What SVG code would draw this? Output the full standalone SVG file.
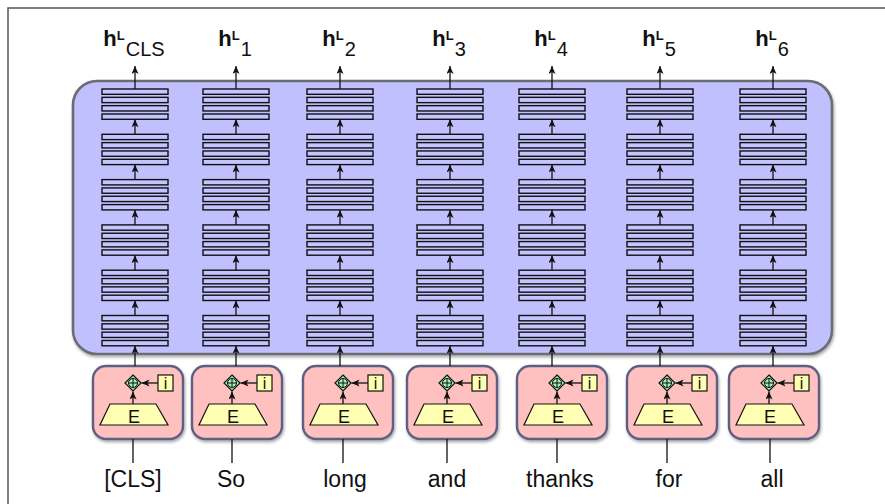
<svg xmlns="http://www.w3.org/2000/svg" xmlns:xlink="http://www.w3.org/1999/xlink" width="885" height="504" viewBox="0 0 885 504">
<style>
.frame{fill:none;stroke:#555;stroke-width:1.5}
.enc{fill:#c0c0ff;stroke:#6c6c74;stroke-width:2.6}
.bar{fill:#c4c4ff;stroke:#111;stroke-width:1.4}
.emb{fill:#ffc0c0;stroke:#5e5e84;stroke-width:2.4}
.trap{fill:#ffffb4;stroke:#111;stroke-width:1.2}
.dia{fill:#a4f0b4;stroke:#111;stroke-width:1.2}
.ibox{fill:#ffffb4;stroke:#111;stroke-width:1.2}
.ln{fill:none;stroke:#111;stroke-width:1.3}
.arr{fill:none;stroke:#111;stroke-width:1.3;marker-end:url(#ah)}
.lbl{font-family:"Liberation Sans",Arial,sans-serif;fill:#111}
.word{font-family:"Liberation Sans",Arial,sans-serif;font-size:23px;fill:#111;text-anchor:middle}
.e{font-family:"Liberation Sans",Arial,sans-serif;font-size:18px;fill:#111;text-anchor:middle}
.i{font-family:"Liberation Sans",Arial,sans-serif;font-size:16px;fill:#111;text-anchor:middle}
</style>
<defs>
<filter id="sh" x="-10%" y="-10%" width="125%" height="130%">
<feDropShadow dx="1" dy="2" stdDeviation="1.5" flood-color="#000" flood-opacity="0.35"/>
</filter>
<marker id="ah" markerUnits="userSpaceOnUse" markerWidth="9" markerHeight="8" refX="8" refY="3.5" orient="auto">
<path d="M0,0 L8,3.5 L0,7 L2,3.5 z" fill="#111"/>
</marker>
<g id="grp">
<rect class="bar" x="-33" y="0" width="66" height="5.3"/>
<rect class="bar" x="-33" y="8.33" width="66" height="5.3"/>
<rect class="bar" x="-33" y="16.67" width="66" height="5.3"/>
<rect class="bar" x="-33" y="25" width="66" height="5.3"/>
</g>
<g id="stack">
<use xlink:href="#grp" y="0"/>
<use xlink:href="#grp" y="45.3"/>
<use xlink:href="#grp" y="90.6"/>
<use xlink:href="#grp" y="135.9"/>
<use xlink:href="#grp" y="181.2"/>
<use xlink:href="#grp" y="226.5"/>
</g>
<g id="colarrows">
<path class="arr" d="M0,89 V66"/>
<path class="arr" d="M0,134.3 V119.3"/>
<path class="arr" d="M0,179.6 V164.6"/>
<path class="arr" d="M0,224.9 V209.9"/>
<path class="arr" d="M0,270.2 V255.2"/>
<path class="arr" d="M0,315.5 V300.5"/>
<path class="arr" d="M0,366 V345.8"/>
</g>
<g id="embed">
<rect class="emb" x="0" y="366" width="90" height="73" rx="13" filter="url(#sh)"/>
<polygon class="trap" points="17,404 63,404 75,425 7,425"/>
<text class="e" x="41" y="423">E</text>
<rect class="ibox" x="65" y="375" width="15" height="16"/>
<text class="i" x="72.5" y="389">i</text>
<polygon class="dia" points="40,375 48,383 40,391 32,383"/>
<circle cx="40" cy="383" r="4.5" fill="none" stroke="#111" stroke-width="1"/>
<path d="M35.5,383 H44.5 M40,378.5 V387.5" stroke="#111" stroke-width="1"/>
<path class="arr" d="M65,383 H48.5"/>
<path class="arr" d="M40,404 V391.5"/>
</g>
</defs>

<path class="frame" d="M8,504 V8 H885"/>

<g id="encoder">
<rect class="enc" x="73" y="81" width="759" height="273" rx="24" filter="url(#sh)"/>
</g>

<g id="stack-cls" transform="translate(135,89)"><use xlink:href="#stack"/></g>
<g id="stack-1" transform="translate(236,89)"><use xlink:href="#stack"/></g>
<g id="stack-2" transform="translate(340,89)"><use xlink:href="#stack"/></g>
<g id="stack-3" transform="translate(450,89)"><use xlink:href="#stack"/></g>
<g id="stack-4" transform="translate(552,89)"><use xlink:href="#stack"/></g>
<g id="stack-5" transform="translate(660,89)"><use xlink:href="#stack"/></g>
<g id="stack-6" transform="translate(773,89)"><use xlink:href="#stack"/></g>

<g id="embed-cls" transform="translate(93,0)"><use xlink:href="#embed"/></g>
<g id="embed-so" transform="translate(192,0)"><use xlink:href="#embed"/></g>
<g id="embed-long" transform="translate(303,0)"><use xlink:href="#embed"/></g>
<g id="embed-and" transform="translate(407,0)"><use xlink:href="#embed"/></g>
<g id="embed-thanks" transform="translate(517,0)"><use xlink:href="#embed"/></g>
<g id="embed-for" transform="translate(627,0)"><use xlink:href="#embed"/></g>
<g id="embed-all" transform="translate(729,0)"><use xlink:href="#embed"/></g>

<g id="connectors">
<use xlink:href="#colarrows" x="135"/>
<use xlink:href="#colarrows" x="236"/>
<use xlink:href="#colarrows" x="340"/>
<use xlink:href="#colarrows" x="450"/>
<use xlink:href="#colarrows" x="552"/>
<use xlink:href="#colarrows" x="660"/>
<use xlink:href="#colarrows" x="773"/>
<path class="ln" d="M133,439 V463"/>
<path class="ln" d="M232,439 V463"/>
<path class="ln" d="M343,439 V463"/>
<path class="ln" d="M447,439 V463"/>
<path class="ln" d="M557,439 V463"/>
<path class="ln" d="M667,439 V463"/>
<path class="ln" d="M770,439 V463"/>
</g>

<g id="outputs">
<text class="lbl" x="134" y="46" text-anchor="middle"><tspan font-weight="bold" font-size="22">h</tspan><tspan font-weight="bold" font-size="13" dy="-6">L</tspan><tspan font-size="20" dy="16" dx="1">CLS</tspan></text>
<text class="lbl" x="235" y="46" text-anchor="middle"><tspan font-weight="bold" font-size="22">h</tspan><tspan font-weight="bold" font-size="13" dy="-6">L</tspan><tspan font-size="20" dy="16" dx="1">1</tspan></text>
<text class="lbl" x="339" y="46" text-anchor="middle"><tspan font-weight="bold" font-size="22">h</tspan><tspan font-weight="bold" font-size="13" dy="-6">L</tspan><tspan font-size="20" dy="16" dx="1">2</tspan></text>
<text class="lbl" x="449" y="46" text-anchor="middle"><tspan font-weight="bold" font-size="22">h</tspan><tspan font-weight="bold" font-size="13" dy="-6">L</tspan><tspan font-size="20" dy="16" dx="1">3</tspan></text>
<text class="lbl" x="551" y="46" text-anchor="middle"><tspan font-weight="bold" font-size="22">h</tspan><tspan font-weight="bold" font-size="13" dy="-6">L</tspan><tspan font-size="20" dy="16" dx="1">4</tspan></text>
<text class="lbl" x="659" y="46" text-anchor="middle"><tspan font-weight="bold" font-size="22">h</tspan><tspan font-weight="bold" font-size="13" dy="-6">L</tspan><tspan font-size="20" dy="16" dx="1">5</tspan></text>
<text class="lbl" x="772" y="46" text-anchor="middle"><tspan font-weight="bold" font-size="22">h</tspan><tspan font-weight="bold" font-size="13" dy="-6">L</tspan><tspan font-size="20" dy="16" dx="1">6</tspan></text>
</g>

<g id="inputs">
<text class="word" x="133" y="487">[CLS]</text>
<text class="word" x="231" y="487">So</text>
<text class="word" x="345" y="487">long</text>
<text class="word" x="447" y="487">and</text>
<text class="word" x="560" y="487">thanks</text>
<text class="word" x="669" y="487">for</text>
<text class="word" x="772" y="487">all</text>
</g>
</svg>
